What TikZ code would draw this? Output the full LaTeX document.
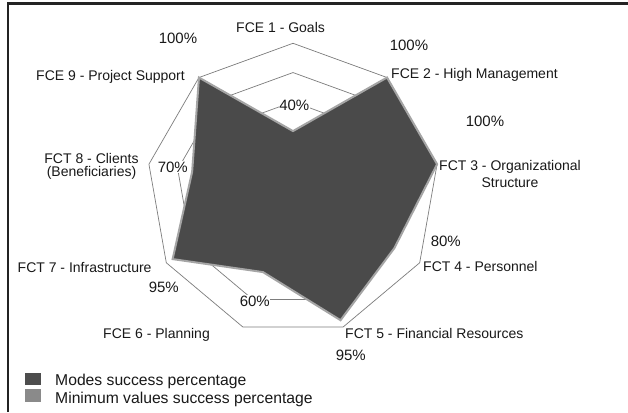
\documentclass[tikz,border=0pt]{standalone}
\usepackage{fontspec}
\setmainfont{Liberation Sans}
\definecolor{darkfill}{RGB}{74,74,74}
\definecolor{minline}{RGB}{165,165,165}
\definecolor{legmode}{RGB}{77,77,77}
\definecolor{legmin}{RGB}{138,138,138}
\definecolor{gridc}{RGB}{125,125,125}
\definecolor{framec}{RGB}{35,35,35}
\begin{document}
\begin{tikzpicture}[x=1pt,y=-1pt,
  lbl/.style={font=\fontsize{14}{16}\selectfont, inner sep=0pt, anchor=base west, text=black!90},
  pct/.style={font=\fontsize{15}{17}\selectfont, inner sep=0.6pt, fill=white, anchor=base west, text=black!90},
  legtext/.style={font=\fontsize{15.7}{18}\selectfont, inner sep=0pt, anchor=base west, text=black!90},
  legsq/.style={minimum width=15.5pt, minimum height=12.5pt, inner sep=0pt, draw=none},
  ring/.style={draw=gridc, line width=0.7pt},
  modearea/.style={fill=darkfill, draw=minline, line width=2pt}]
\fill[white] (0,0) rectangle (628,412);
\useasboundingbox (0,0) rectangle (628,412);
% frame
\draw[framec, line width=2.5pt] (7.8,412) -- (7.8,3.7) -- (628,3.7);
% radar grid and data
\begin{scope}[shift={(293,189.6)}]
  \foreach \lv in {0.2,0.4,0.6,0.8,1.0}{
    \pgfmathsetmacro{\rr}{146.3*\lv}
    \draw[ring] (-90:\rr) \foreach \k in {1,...,8}{ -- (40*\k-90:\rr)} -- cycle;
  }
  \foreach \v [count=\k from 0] in {0.40,1.00,1.00,0.80,0.95,0.60,0.95,0.70,1.00}{
    \pgfmathsetmacro{\rr}{146.3*\v}
    \coordinate (d\k) at (40*\k-90:\rr);
  }
  \draw[modearea] (d0) -- (d1) -- (d2) -- (d3) -- (d4) -- (d5) -- (d6) -- (d7) -- (d8) -- cycle;
\end{scope}
% axis labels
\node[lbl] (g1) at (236,33) {FCE 1 - Goals};
\node[lbl] (g2) at (391,78.5) {FCE 2 - High Management};
\node[lbl, anchor=base, align=center, font=\fontsize{14}{16.5}\selectfont] (g3) at (510,187) {FCT 3 - Organizational\\Structure};
\node[lbl] (g4) at (423,271) {FCT 4 - Personnel};
\node[lbl] (g5) at (345,338) {FCT 5 - Financial Resources};
\node[lbl] (g6) at (103,338.5) {FCE 6 - Planning};
\node[lbl] (g7) at (17.5,272.5) {FCT 7 - Infrastructure};
\node[lbl, anchor=base, align=center, font=\fontsize{14}{13}\selectfont] (g8) at (91.5,176.3) {FCT 8 - Clients\\(Beneficiaries)};
\node[lbl] (g9) at (36,80.5) {FCE 9 - Project Support};
% value labels
\node[pct] (p1) at (278.5,110) {40\%};
\node[pct] (p2) at (389,50) {100\%};
\node[pct] (p3) at (465,126) {100\%};
\node[pct] (p4) at (430,246.5) {80\%};
\node[pct] (p5) at (335,360.5) {95\%};
\node[pct] (p6) at (239,306) {60\%};
\node[pct] (p7) at (148,292.5) {95\%};
\node[pct] (p8) at (157,172.5) {70\%};
\node[pct] (p9) at (158,44) {100\%};
% legend
\node[legsq, fill=legmode] (s1) at (32.8,379.2) {};
\node[legsq, fill=legmin] (s2) at (32.8,395.7) {};
\node[legtext] (t1) at (55,385) {Modes success percentage};
\node[legtext] (t2) at (55,403.5) {Minimum values success percentage};
\end{tikzpicture}
\end{document}
